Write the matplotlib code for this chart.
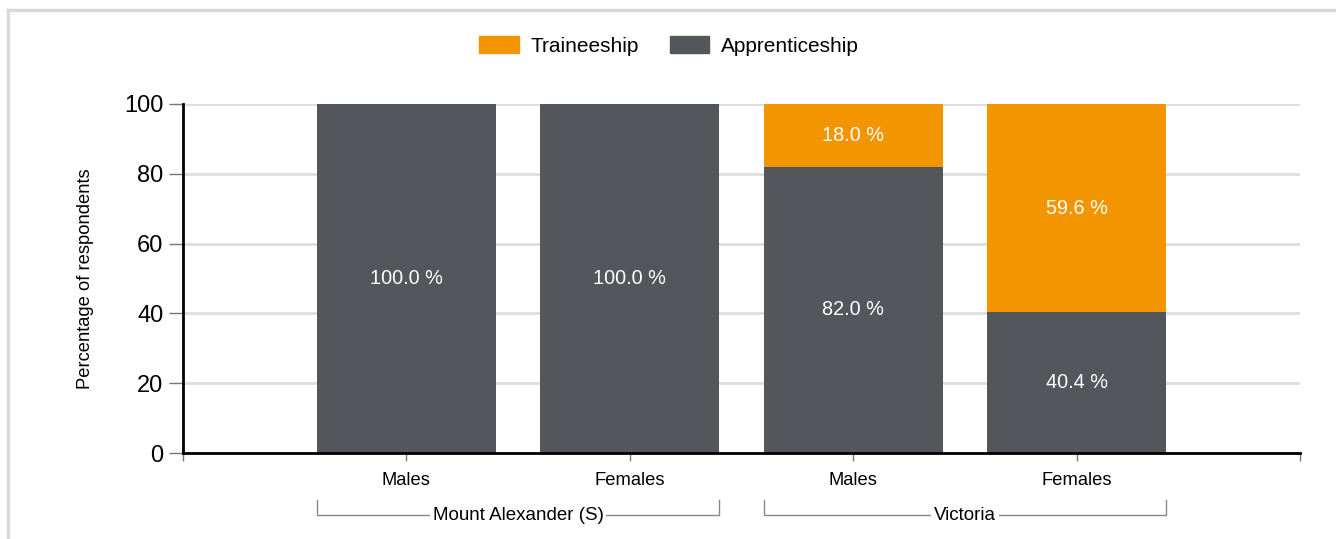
import matplotlib.pyplot as plt
from matplotlib.lines import Line2D
from matplotlib.patches import Patch
import matplotlib.transforms as mtransforms

plt.rcParams['font.family'] = ['Liberation Sans', 'DejaVu Sans']

# data
categories = ["Males", "Females", "Males", "Females"]
groups = ["Mount Alexander (S)", "Victoria"]
apprenticeship = [100.0, 100.0, 82.0, 40.4]
traineeship = [0.0, 0.0, 18.0, 59.6]

orange = "#F39500"
grey = "#53565A"

fig = plt.figure(figsize=(13.36, 5.39), dpi=100)
ax = fig.add_axes([183/1336, 1-453/539, (1300-183)/1336, (453-104)/539])

x = [1, 2, 3, 4]
ax.bar(x, apprenticeship, width=0.8, color=grey, zorder=3)
ax.bar(x, traineeship, width=0.8, bottom=apprenticeship, color=orange, zorder=3)

# labels in the segments
for xi, a, t in zip(x, apprenticeship, traineeship):
    if a > 0:
        ax.text(xi, a/2, f"{a:.1f} %", color="white", ha="center", va="center", fontsize=14.3, zorder=4)
    if t > 0:
        ax.text(xi, a + t/2, f"{t:.1f} %", color="white", ha="center", va="center", fontsize=14.3, zorder=4)

ax.set_xlim(0, 5)
ax.set_ylim(0, 100)
ax.set_yticks([0, 20, 40, 60, 80, 100])
ax.tick_params(axis="y", labelsize=17, length=10, width=1, color="#777777", pad=4)
ax.set_xticks([0, 1, 2, 3, 4, 5])
ax.set_xticklabels([""] + categories + [""], fontsize=13.2)
ax.tick_params(axis="x", length=6, width=1, color="#777777", pad=8)
ax.grid(axis="y", color="#dddddd", linewidth=2, zorder=0)
for s in ["top", "right"]:
    ax.spines[s].set_visible(False)
for s in ["left", "bottom"]:
    ax.spines[s].set_linewidth(2)
    ax.spines[s].set_zorder(5)
ax.set_ylabel("Percentage of respondents", fontsize=13.2, labelpad=22)

# group brackets under the categories
trans = mtransforms.blended_transform_factory(ax.transData, fig.transFigure)
y_line = 1 - 515/539
y_top = 1 - 500/539
for gi, name in enumerate(groups):
    x0 = x[gi*2] - 0.4
    x1 = x[gi*2 + 1] + 0.4
    ax.add_line(Line2D([x0, x0, x1, x1], [y_top, y_line, y_line, y_top], transform=trans,
                       color="#888888", linewidth=1, clip_on=False))
    ax.text((x0 + x1)/2, y_line, name, transform=trans, ha="center", va="center", fontsize=13.5,
            bbox=dict(facecolor="white", edgecolor="none", pad=2), clip_on=False)

handles = [Patch(color=orange, label="Traineeship"), Patch(color=grey, label="Apprenticeship")]
fig.legend(handles=handles, loc="center", bbox_to_anchor=(669/1336, 1-46/539), ncol=2, frameon=False,
           fontsize=15, handlelength=1.9, handleheight=0.9, columnspacing=1.5, handletextpad=0.55)

# light frame around the chart
fig.add_artist(Line2D([8/1336, 1], [1-10/539, 1-10/539], color="#d9d9d9", linewidth=2.5))
fig.add_artist(Line2D([8/1336, 8/1336], [0, 1-10/539], color="#d9d9d9", linewidth=2.5))

fig.savefig("out.png", dpi=100)
